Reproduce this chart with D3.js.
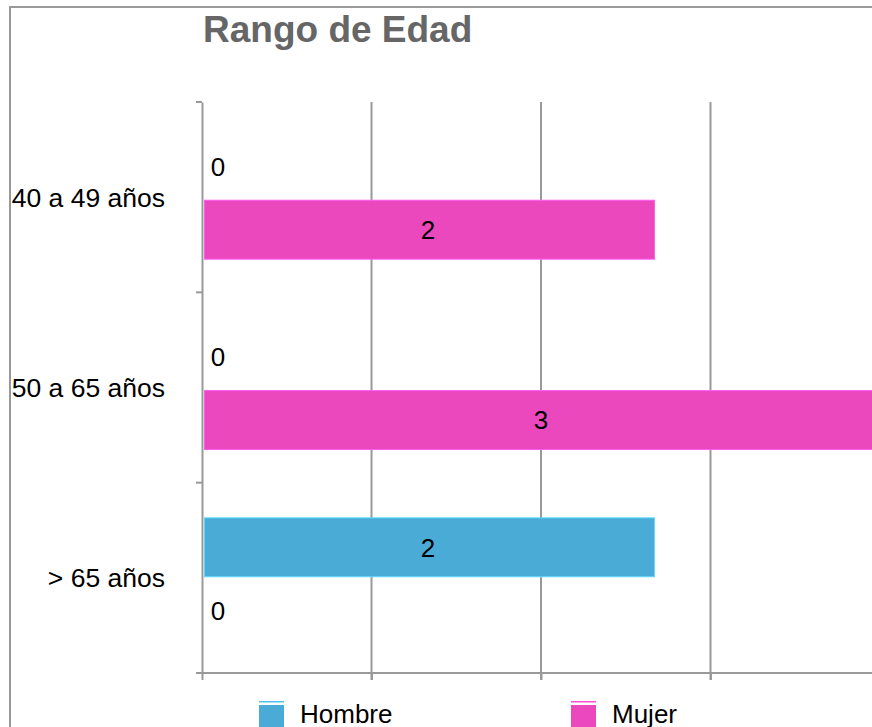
<!DOCTYPE html>
<html>
<head>
<meta charset="utf-8">
<script src="https://cdn.jsdelivr.net/npm/d3@7"></script>
<style>
  body { margin: 0; overflow: hidden; background: #fff; }
  text { font-family: "Liberation Sans", Arial, sans-serif; }
</style>
</head>
<body>
<div id="chart"></div>
<script>
const categories = ['40 a 49 años', '50 a 65 años', '> 65 años'];
const seriesNames = ['Hombre', 'Mujer'];
const hombre = [0, 0, 2];
const mujer = [2, 3, 0];
const gridValues = [0, 0.75, 1.5, 2.25, 3];
const colors = ['#4aabd6', '#ec48be'];

const data = categories.map(function(c, i) {
  return { name: c, values: [hombre[i], mujer[i]] };
});

const width = 872, height = 727;
const svg = d3.select('#chart').append('svg')
  .attr('width', width)
  .attr('height', height);

// frame
svg.append('rect')
  .attr('x', 10).attr('y', 7)
  .attr('width', 1000).attr('height', 1000)
  .attr('fill', 'none')
  .attr('stroke', '#999')
  .attr('stroke-width', 2);

svg.append('text')
  .attr('x', 203).attr('y', 42)
  .attr('fill', '#666')
  .attr('font-size', 37)
  .attr('font-weight', 'bold')
  .text('Rango de Edad');

const x = d3.scaleLinear().domain([0, 3]).range([202, 880]);
const y = d3.scaleBand().domain(categories).range([102, 673]);
const yInner = d3.scaleBand().domain(seriesNames).range([0, 122]).paddingInner(0.065);

// grid
svg.append('g')
  .selectAll('line')
  .data(gridValues.slice(1))
  .enter().append('line')
  .attr('x1', function(d) { return x(d); })
  .attr('x2', function(d) { return x(d); })
  .attr('y1', 102).attr('y2', 680)
  .attr('stroke', '#999')
  .attr('stroke-width', 2);

// axes
const xAxis = svg.append('g')
  .attr('transform', 'translate(0,673)')
  .call(d3.axisBottom(x).tickValues(gridValues).tickSize(7).tickFormat('').tickSizeOuter(0));
const yAxis = svg.append('g')
  .attr('transform', 'translate(202,0)')
  .call(d3.axisLeft(y).tickSize(0).tickFormat(''));
yAxis.selectAll('.yt')
  .data(d3.range(categories.length + 1))
  .enter().append('line')
  .attr('class', 'yt')
  .attr('x1', -6).attr('x2', 0)
  .attr('y1', function(i) { return 102 + i * y.step(); })
  .attr('y2', function(i) { return 102 + i * y.step(); });
[xAxis, yAxis].forEach(function(a) {
  a.selectAll('path, line').attr('stroke', '#999').attr('stroke-width', 2);
});
xAxis.select('.domain').attr('d', 'M196,0H880');

// bars
const groups = svg.append('g')
  .selectAll('g')
  .data(data)
  .enter().append('g')
  .attr('transform', function(d) { return 'translate(0,' + (y(d.name) + (y.bandwidth() - 122) / 2 + 1) + ')'; });

groups.selectAll('rect')
  .data(function(d) { return d.values.map(function(v, i) { return { s: seriesNames[i], v: v, c: colors[i] }; }); })
  .enter().filter(function(d) { return d.v > 0; }).append('rect')
  .attr('x', x(0) + 2.5)
  .attr('y', function(d) { return yInner(d.s); })
  .attr('width', function(d) { return x(d.v) - x(0) - 2; })
  .attr('height', yInner.bandwidth())
  .attr('fill', function(d) { return d.c; })
  .attr('stroke', function(d) { return d3.color(d.c).brighter(0.7); })
  .attr('stroke-width', 1);

groups.selectAll('text')
  .data(function(d) { return d.values.map(function(v, i) { return { s: seriesNames[i], v: v }; }); })
  .enter().append('text')
  .attr('x', function(d) { return Math.max((x(0) + x(d.v)) / 2, x(0) + 16); })
  .attr('y', function(d) { return yInner(d.s) + yInner.bandwidth() / 2; })
  .attr('dy', '0.36em')
  .attr('text-anchor', 'middle')
  .attr('font-size', 26)
  .attr('fill', '#000')
  .text(function(d) { return d.v; });

// category labels
svg.append('g')
  .selectAll('text')
  .data(categories)
  .enter().append('text')
  .attr('x', 165)
  .attr('y', function(d) { return y(d) + y.bandwidth() / 2; })
  .attr('dy', '0.36em')
  .attr('text-anchor', 'end')
  .attr('font-size', 26.5)
  .attr('fill', '#000')
  .text(function(d) { return d; });

// legend
const legend = svg.append('g')
  .selectAll('g')
  .data(seriesNames)
  .enter().append('g')
  .attr('transform', function(d, i) { return 'translate(' + (259 + i * 312) + ',701)'; });
legend.append('rect')
  .attr('x', 0).attr('y', 0)
  .attr('width', 25).attr('height', 1.5)
  .attr('fill', function(d, i) { return d3.color(colors[i]).brighter(0.3); });
legend.append('rect')
  .attr('x', 0).attr('y', 4)
  .attr('width', 25).attr('height', 30)
  .attr('fill', function(d, i) { return colors[i]; });
legend.append('text')
  .attr('x', 41).attr('y', 13)
  .attr('dy', '0.36em')
  .attr('font-size', 26)
  .attr('fill', '#000')
  .text(function(d) { return d; });
</script>
</body>
</html>
